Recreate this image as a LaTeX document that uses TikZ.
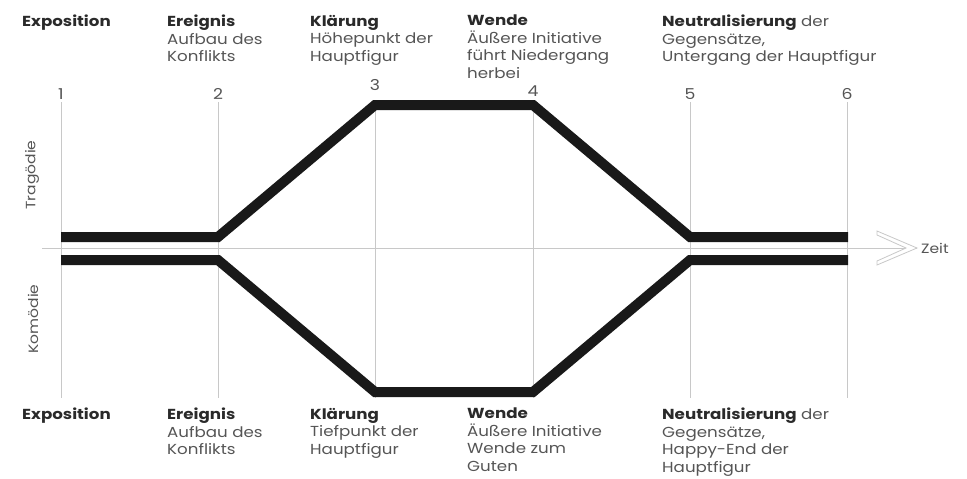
\documentclass[tikz,border=0pt]{standalone}
\usepackage{fontspec}
\setmainfont{Poppins}[FakeStretch=1.15]
\usepackage{xcolor}
\usetikzlibrary{positioning,calc}
\definecolor{txtgray}{HTML}{555555}
\definecolor{headgray}{HTML}{2A2A2A}
\definecolor{rulegray}{HTML}{C8C8C8}

\begin{document}
\begin{tikzpicture}[x = 1pt, y = -1pt,
    lbl/.style = {anchor = north west, inner sep = 0pt, align = left, text = txtgray,
                  font = \fontsize{14.5}{17.5}\selectfont},
    num/.style = {inner sep = 0pt, text = txtgray, font = \fontsize{15}{15}\selectfont},
    side/.style = {inner sep = 0pt, rotate = 90, text = txtgray, font = \fontsize{13.5}{13.5}\selectfont},
    tick/.style = {draw = rulegray, line width = .8pt},
    plot/.style = {draw = black!90, line width = 10pt, line join = miter}]
    \useasboundingbox (0,0) rectangle (967,479);

    % time axis
    \coordinate (axl) at (42,248);
    \coordinate (axr) at (917,248);
    \draw[draw = rulegray, line width = .8pt] (axl) -- (axr);
    \draw[draw = rulegray, line width = .8pt, fill = white, line join = miter]
        (877,231) -- (axr) -- (877,265) -- (877,261) -- (906,248) -- (877,235) -- cycle;
    \node[anchor = west, inner sep = 0pt, text = txtgray, font = \fontsize{13.5}{13.5}\selectfont] (zeit) at (921,248) {Zeit};

    % stage lines
    \foreach \i/\x/\ny in {1/61/94, 2/218/94, 3/375/85, 4/533/91, 5/690/94, 6/847/94} {
        \node[num] (n\i) at (\x,\ny) {\i};
        \coordinate (t\i) at (\x,102);
        \coordinate (b\i) at (\x,398);
        \draw[tick] (t\i) -- (b\i);
    }

    % Tragoedie / Komoedie
    \coordinate (tr1) at (61,237);  \coordinate (tr2) at (218,237);
    \coordinate (tr3) at (375,105); \coordinate (tr4) at (533,105);
    \coordinate (tr5) at (690,237); \coordinate (tr6) at (848,237);
    \coordinate (ko1) at (61,260);  \coordinate (ko2) at (218,260);
    \coordinate (ko3) at (375,392); \coordinate (ko4) at (533,392);
    \coordinate (ko5) at (690,260); \coordinate (ko6) at (848,260);
    \draw[plot] (tr1) -- (tr2) -- (tr3) -- (tr4) -- (tr5) -- (tr6);
    \draw[plot] (ko1) -- (ko2) -- (ko3) -- (ko4) -- (ko5) -- (ko6);

    \node[side] (trag) at (32,175) {Tragödie};
    \node[side] (komo) at (33,319) {Komödie};

    % upper labels
    \node[lbl] (expo) at (22,15) {\textbf{\color{headgray}Exposition}};
    \node[lbl] (ereig) at (167,15) {\textbf{\color{headgray}Ereignis}\\Aufbau des\\Konflikts};
    \node[lbl] (klaer) at (310,15) {\textbf{\color{headgray}Klärung}\\Höhepunkt der\\Hauptfigur};
    \node[lbl] (wende) at (467,15) {\textbf{\color{headgray}Wende}\\Äußere Initiative\\führt Niedergang\\herbei};
    \node[lbl] (neutr) at (662,15) {\textbf{\color{headgray}Neutralisierung} der\\Gegensätze,\\Untergang der Hauptfigur};

    % lower labels
    \node[lbl] (expob) at (22,408) {\textbf{\color{headgray}Exposition}};
    \node[lbl] (ereigb) at (167,408) {\textbf{\color{headgray}Ereignis}\\Aufbau des\\Konflikts};
    \node[lbl] (klaerb) at (310,408) {\textbf{\color{headgray}Klärung}\\Tiefpunkt der\\Hauptfigur};
    \node[lbl] (wendeb) at (467,408) {\textbf{\color{headgray}Wende}\\Äußere Initiative\\Wende zum\\Guten};
    \node[lbl] (neutrb) at (662,408) {\textbf{\color{headgray}Neutralisierung} der\\Gegensätze,\\Happy-End der\\Hauptfigur};
\end{tikzpicture}
\end{document}
